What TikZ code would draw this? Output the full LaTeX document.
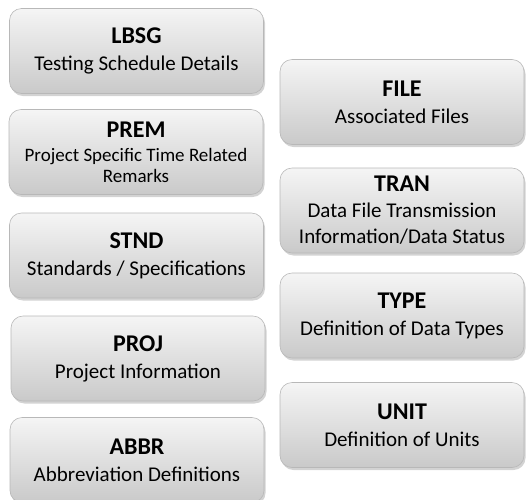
\documentclass[tikz,border=0pt]{standalone}
\usepackage{fontspec}
\setmainfont{Carlito}
\usetikzlibrary{shadows}

\tikzset{
  tablebox/.style={draw=white!72!black, line width=0.6pt, rounded corners=12pt,
    top color=white!96!black, bottom color=white!79!black,
    drop shadow={opacity=0.35, shadow xshift=1.5pt, shadow yshift=-2.5pt},
    align=center, inner sep=2pt, font=\fontsize{21}{27}\selectfont},
  leftbox/.style={tablebox, minimum width=254pt, minimum height=85pt},
  rightbox/.style={tablebox, minimum width=244pt, minimum height=85pt},
}
\newcommand{\tabname}[1]{{\bfseries\fontsize{24}{27}\selectfont #1}}

\begin{document}
\begin{tikzpicture}[x=1pt,y=-1pt]
  \useasboundingbox (0,0) rectangle (526,499);
  \clip (0,0) rectangle (526,499); % cuts the last box at the bottom

  % left column
  \node[leftbox] (lbsg) at (136.5,51) {\tabname{LBSG}\\Testing Schedule Details};
  \node[leftbox, font=\fontsize{19}{21}\selectfont] (prem) at (136,152)
      {\tabname{PREM}\\[3pt]Project Specific Time Related\\Remarks};
  \node[leftbox] (stnd) at (136.5,255.5) {\tabname{STND}\\Standards / Specifications};
  \node[leftbox] (proj) at (138,358.5) {\tabname{PROJ}\\Project Information};
  \node[leftbox] (abbr) at (137,460) {\tabname{ABBR}\\Abbreviation Definitions};

  % right column
  \node[rightbox] (file) at (402,102) {\tabname{FILE}\\Associated Files};
  \node[rightbox, font=\fontsize{21}{26}\selectfont] (tran) at (402,210.5)
      {\tabname{TRAN}\\Data File Transmission\\Information/Data Status};
  \node[rightbox] (type) at (402,315.5) {\tabname{TYPE}\\Definition of Data Types};
  \node[rightbox] (unit) at (402,425) {\tabname{UNIT}\\Definition of Units};
\end{tikzpicture}
\end{document}
